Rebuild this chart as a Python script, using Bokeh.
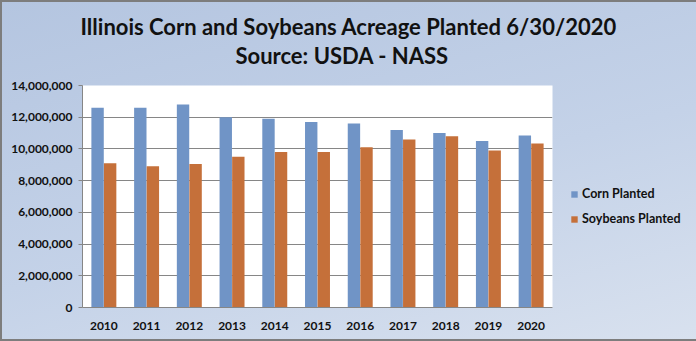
from bokeh.plotting import figure
from bokeh.models import (ColumnDataSource, FactorRange, Range1d, FixedTicker,
                          NumeralTickFormatter, Legend, LegendItem, Title)
from bokeh.transform import dodge
from bokeh.embed import file_html
from bokeh.resources import INLINE

years = ["2010", "2011", "2012", "2013", "2014", "2015", "2016", "2017", "2018", "2019", "2020"]
corn = [12600000, 12600000, 12800000, 12000000, 11900000, 11700000, 11600000, 11200000, 11000000, 10500000, 10850000]
soy = [9100000, 8900000, 9050000, 9500000, 9800000, 9800000, 10100000, 10600000, 10800000, 9900000, 10350000]
y_ticks = [0, 2000000, 4000000, 6000000, 8000000, 10000000, 12000000, 14000000]
title1 = "Illinois Corn and Soybeans Acreage Planted 6/30/2020"
title2 = "Source:  USDA - NASS"

FONT = "Lato"
CORN_C = "#7094c6"
SOY_C = "#c5703a"

src = ColumnDataSource(dict(year=years, corn=corn, soy=soy))

p = figure(frame_width=470, frame_height=222, x_range=FactorRange(*years),
           y_range=Range1d(0, 14000000), output_backend="svg",
           toolbar_location=None, min_border_left=82, min_border_right=144,
           min_border_top=85, min_border_bottom=34)

p.border_fill_alpha = 0
p.background_fill_color = "white"
p.outline_line_color = None
p.styles = {"background-image": "linear-gradient(165deg, #b4c5e0 0%, #c4d2e8 45%, #e3e9f2 100%)",
            "box-shadow": "inset 0 0 0 2px #7d7d7d"}

r1 = p.vbar(x=dodge("year", -0.147, range=p.x_range), top="corn", width=0.29,
            source=src, fill_color=CORN_C, line_color=None)
r2 = p.vbar(x=dodge("year", 0.147, range=p.x_range), top="soy", width=0.29,
            source=src, fill_color=SOY_C, line_color=None)

p.yaxis.ticker = FixedTicker(ticks=y_ticks)
p.yaxis.formatter = NumeralTickFormatter(format="0,0")
p.yaxis.major_label_text_font = FONT
p.yaxis.major_label_text_font_style = "bold"
p.yaxis.major_label_text_font_size = "12px"
p.yaxis.major_label_text_color = "#111111"
p.yaxis.axis_line_color = "#868686"
p.yaxis.major_tick_line_color = "#868686"
p.yaxis.major_tick_out = 4
p.yaxis.major_tick_in = 0
p.yaxis.minor_tick_line_color = None
p.yaxis.major_label_standoff = 6

p.xaxis.major_label_text_font = FONT
p.xaxis.major_label_text_font_style = "bold"
p.xaxis.major_label_text_font_size = "12px"
p.xaxis.major_label_text_color = "#111111"
p.xaxis.axis_line_color = "#868686"
p.xaxis.major_tick_line_color = None
p.xaxis.minor_tick_line_color = None
p.xaxis.major_label_standoff = 8

p.xgrid.grid_line_color = None
p.ygrid.grid_line_color = "#868686"
p.ygrid.grid_line_width = 1

legend = Legend(items=[LegendItem(label="Corn Planted", renderers=[r1]),
                       LegendItem(label="Soybeans Planted", renderers=[r2])],
                location=(18, 81), background_fill_alpha=0, border_line_color=None,
                label_text_font=FONT, label_text_font_style="bold",
                label_text_font_size="12.5px", label_text_color="#111111",
                glyph_width=8, glyph_height=8, spacing=10, label_standoff=4,
                margin=0, padding=4)
p.add_layout(legend, "right")

p.title.visible = False
spacer = Title(text=" ", text_font_size="1px", standoff=14)
t2 = Title(text=title2, align="left", offset=153, text_font=FONT, text_font_style="bold",
           text_font_size="22px", text_color="#111111", standoff=0)
t1 = Title(text=title1, align="left", offset=-2, text_font=FONT, text_font_style="bold",
           text_font_size="22px", text_color="#111111", standoff=0)
p.add_layout(spacer, "above")
p.add_layout(t2, "above")
p.add_layout(t1, "above")

open("out.html", "w").write(file_html(p, INLINE))
